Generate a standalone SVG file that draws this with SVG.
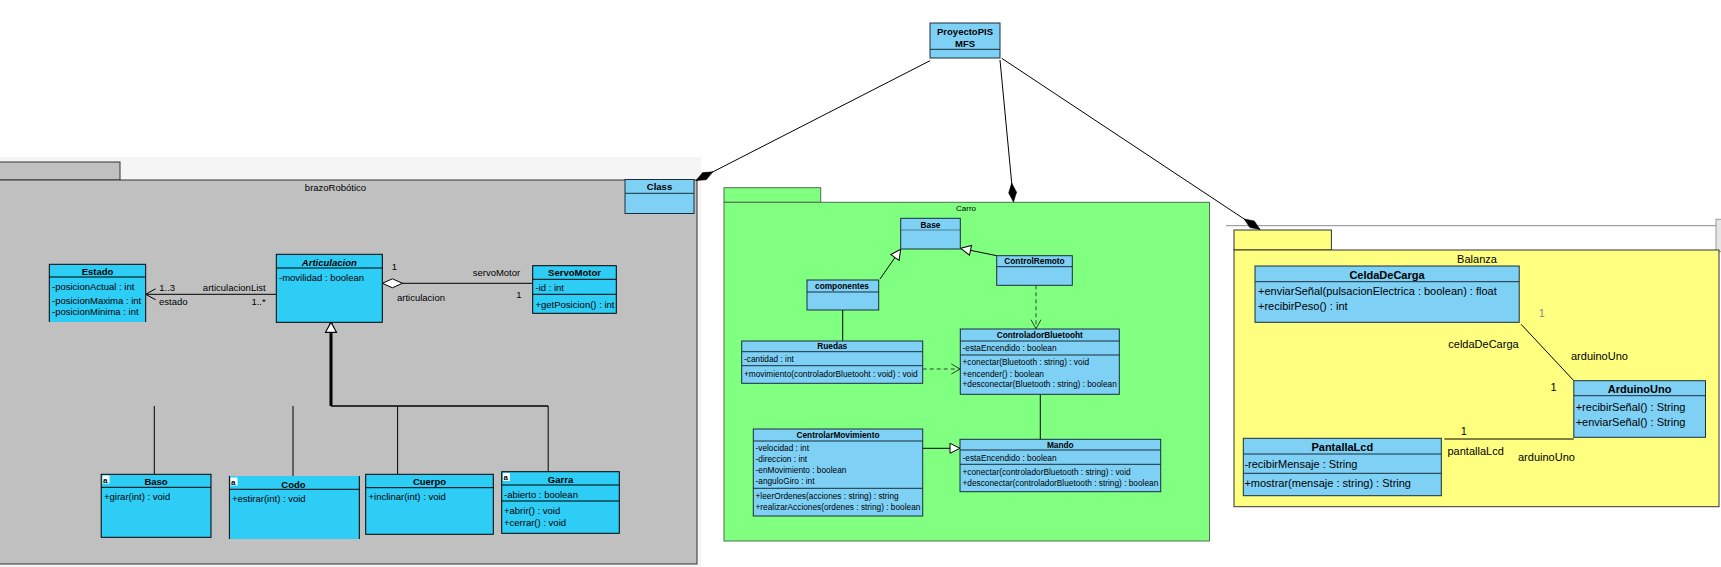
<svg xmlns="http://www.w3.org/2000/svg" width="1721" height="567" viewBox="0 0 1721 567">
<style>
text { font-family: 'Liberation Sans', Arial, sans-serif; fill: #000; }
.t95 { font-size: 9.5px; }
.t83 { font-size: 8.3px; }
.t11 { font-size: 11px; }
.t8 { font-size: 8px; }
.b { font-weight: bold; }
.i { font-style: italic; }
.mid { text-anchor: middle; }
.end { text-anchor: end; }
.cyan { fill: #2ecdf5; stroke: #000; stroke-width: 1; }
.cyanf { fill: #2ecdf5; stroke: none; }
.lb { fill: #7fd0f5; stroke: #1a2e3a; stroke-width: 1; }
.dv { stroke: #000; stroke-width: 1; fill: none; }
.dvl { stroke: #1a2e3a; stroke-width: 1; fill: none; }
.bd { stroke: #000; stroke-width: 1; fill: none; }
.ln { stroke: #000; stroke-width: 1; fill: none; }
.dash { stroke: #2a4a2a; stroke-width: 1; fill: none; stroke-dasharray: 4 3; }
.icon { fill: #fff; stroke: none; }
</style>
<defs>
<marker id="dFill" markerUnits="userSpaceOnUse" orient="auto" refX="0" refY="0" markerWidth="20" markerHeight="10" overflow="visible"><path d="M0,0 L-9.5,-4 L-19,0 L-9.5,4 Z" fill="#000" stroke="#000" stroke-width="0.5"/></marker>
<marker id="dHollow" markerUnits="userSpaceOnUse" orient="auto" refX="0" refY="0" markerWidth="20" markerHeight="10" overflow="visible"><path d="M0,0 L-10,-4.5 L-20,0 L-10,4.5 Z" fill="#fff" stroke="#000" stroke-width="1"/></marker>
<marker id="tri" markerUnits="userSpaceOnUse" orient="auto" refX="0" refY="0" markerWidth="12" markerHeight="12" overflow="visible"><path d="M0,0 L-10,-5 L-10,5 Z" fill="#fff" stroke="#000" stroke-width="1"/></marker>
<marker id="triBig" markerUnits="userSpaceOnUse" orient="auto" refX="0" refY="0" markerWidth="12" markerHeight="12" overflow="visible"><path d="M0,0 L-10,-5.5 L-10,5.5 Z" fill="#fff" stroke="#000" stroke-width="1.2"/></marker>
<marker id="open" markerUnits="userSpaceOnUse" orient="auto" refX="0" refY="0" markerWidth="12" markerHeight="12" overflow="visible"><path d="M-10,-5.5 L0,0 L-10,5.5" fill="none" stroke="#000" stroke-width="1" stroke-dasharray="none"/></marker>
<marker id="openG" markerUnits="userSpaceOnUse" orient="auto" refX="0" refY="0" markerWidth="12" markerHeight="12" overflow="visible"><path d="M-9,-5 L0,0 L-9,5" fill="none" stroke="#2a4a2a" stroke-width="1" stroke-dasharray="none"/></marker>
</defs>

<rect x="0" y="0" width="1721" height="567" fill="#fff"/>
<g id="background">
<rect x="0" y="157" width="701" height="410" fill="#f5f5f5"/>
<line x1="1226" y1="225.7" x2="1716" y2="225.7" stroke="#8a8a8a" stroke-width="1"/>
<rect x="1716" y="219.3" width="6" height="32.4" fill="#e6e6e6" stroke="#9a9a9a" stroke-width="1"/>
</g>

<g id="pkg-brazoRobotico">
<rect x="-1" y="162" width="121" height="18" fill="#c0c0c0" stroke="#333" stroke-width="1"/>
<rect x="-1" y="180" width="698" height="384" fill="#c0c0c0" stroke="#333" stroke-width="1"/>
<text class="t95 mid" x="335.5" y="190.8">brazoRobótico</text>
</g>

<g id="pkg-Carro">
<rect x="724" y="187.7" width="96.7" height="14.6" fill="#80ff80" stroke="#4d704d" stroke-width="1"/>
<rect x="724" y="202.3" width="485.5" height="338.7" fill="#80ff80" stroke="#4d704d" stroke-width="1"/>
<text class="t8 mid" x="966" y="210.5">Carro</text>
</g>

<g id="pkg-Balanza">
<rect x="1234" y="230" width="97.4" height="20" fill="#ffff80" stroke="#333" stroke-width="1"/>
<rect x="1234" y="250" width="485" height="256.7" fill="#ffff80" stroke="#333" stroke-width="1"/>
<text class="t11 mid" x="1477" y="263.3">Balanza</text>
</g>

<g id="connectors">
<line class="ln" x1="930" y1="60.7" x2="696" y2="180.5" marker-end="url(#dFill)"/>
<line class="ln" x1="1000" y1="60" x2="1013.5" y2="202" marker-end="url(#dFill)"/>
<line class="ln" x1="1001.7" y1="58.3" x2="1260" y2="229.5" marker-end="url(#dFill)"/>

<line class="ln" x1="276.3" y1="294.3" x2="145.7" y2="294.3" marker-end="url(#open)"/>
<text class="t95" x="159.3" y="291">1..3</text>
<text class="t95" x="159" y="305">estado</text>
<text class="t95 end" x="265.7" y="291">articulacionList</text>
<text class="t95 end" x="265.7" y="305">1..*</text>

<line class="ln" x1="532.7" y1="283.3" x2="382.4" y2="283.3" marker-end="url(#dHollow)"/>
<text class="t95" x="391.8" y="270">1</text>
<text class="t95" x="472.7" y="275.8">servoMotor</text>
<text class="t95" x="397" y="301">articulacion</text>
<text class="t95" x="516.3" y="297.8">1</text>

<line x1="331" y1="406" x2="331" y2="322.3" stroke="#000" stroke-width="3" marker-end="url(#triBig)"/>
<line x1="331" y1="406" x2="548.2" y2="406" stroke="#000" stroke-width="1.5"/>
<line class="ln" x1="397.6" y1="406" x2="397.6" y2="474.3"/>
<line class="ln" x1="548.2" y1="406" x2="548.2" y2="471.7"/>
<line class="ln" x1="154.3" y1="406" x2="154.3" y2="474.3"/>
<line class="ln" x1="293" y1="406" x2="293" y2="476"/>

<line class="ln" x1="880" y1="279" x2="900.7" y2="249.3" marker-end="url(#tri)"/>
<line class="ln" x1="996.7" y1="255.7" x2="960.7" y2="248.3" marker-end="url(#tri)"/>
<line class="dash" x1="1036" y1="285.3" x2="1036" y2="328.7" marker-end="url(#openG)"/>
<line class="ln" x1="842.7" y1="310" x2="842.7" y2="341"/>
<line class="dash" x1="922.7" y1="369" x2="960.3" y2="369" marker-end="url(#openG)"/>
<line class="ln" x1="1040.3" y1="394.3" x2="1040.3" y2="439.3"/>
<line class="ln" x1="922.7" y1="448.3" x2="960" y2="448.3" marker-end="url(#tri)"/>

<line class="ln" x1="1521.1" y1="324.3" x2="1573.8" y2="380.7"/>
<text class="t11" x="1538.7" y="316.7" fill="#888" style="fill:#888">1</text>
<text class="t11" x="1448.3" y="348">celdaDeCarga</text>
<text class="t11" x="1571" y="360">arduinoUno</text>
<text class="t11" x="1550.4" y="391.3">1</text>
<line class="ln" x1="1444.4" y1="439" x2="1573.8" y2="439"/>
<text class="t11" x="1460.7" y="434.7">1</text>
<text class="t11" x="1447.5" y="455">pantallaLcd</text>
<text class="t11" x="1518" y="461.3">arduinoUno</text>
</g>

<g id="node-ProyectoPIS">
<rect class="lb" x="930" y="23" width="70" height="35"/>
<line class="dvl" x1="930" y1="49.3" x2="1000" y2="49.3"/>
<text class="t95 b mid" x="965" y="35">ProyectoPIS</text>
<text class="t95 b mid" x="965" y="47">MFS</text>
</g>

<g id="node-Class">
<rect class="lb" x="625" y="179.5" width="69" height="34"/>
<line class="dvl" x1="625" y1="193.3" x2="694" y2="193.3"/>
<text class="t95 b mid" x="659.5" y="190">Class</text>
</g>

<g id="node-Estado">
<rect class="cyanf" x="49.3" y="264.3" width="96.4" height="57.7"/>
<path class="bd" d="M49.3,322 V264.3 H145.7 V322"/>
<line class="dv" x1="49.3" y1="277" x2="145.7" y2="277"/>
<text class="t95 b mid" x="97.5" y="275">Estado</text>
<text class="t95" x="52" y="290">-posicionActual : int</text>
<text class="t95" x="52" y="303.5">-posicionMaxima : int</text>
<text class="t95" x="52" y="315">-posicionMinima : int</text>
</g>

<g id="node-Articulacion">
<rect class="cyan" x="276.3" y="254.3" width="106" height="68"/>
<line class="dv" x1="276.3" y1="268" x2="382.3" y2="268"/>
<text class="t95 b i mid" x="329.3" y="265.5">Articulacion</text>
<text class="t95" x="279" y="280.5">-movilidad : boolean</text>
</g>

<g id="node-ServoMotor">
<rect class="cyan" x="532.7" y="265.7" width="83.6" height="47.6"/>
<line class="dv" x1="532.7" y1="279.3" x2="616.3" y2="279.3"/>
<line class="dv" x1="532.7" y1="294.3" x2="616.3" y2="294.3"/>
<text class="t95 b mid" x="574.5" y="276">ServoMotor</text>
<text class="t95" x="535.5" y="291">-id : int</text>
<text class="t95" x="535.5" y="307.5">+getPosicion() : int</text>
</g>

<g id="node-Baso">
<rect class="cyan" x="101.2" y="474.3" width="109.8" height="63"/>
<line class="dv" x1="101.2" y1="487.3" x2="211" y2="487.3"/>
<rect class="icon" x="102.5" y="475.5" width="7" height="8"/>
<text class="t8 b" x="103" y="482.5">a</text>
<text class="t95 b mid" x="156" y="485">Baso</text>
<text class="t95" x="104" y="500">+girar(int) : void</text>
</g>

<g id="node-Codo">
<rect class="cyanf" x="229.4" y="476" width="129.9" height="63"/>
<path class="bd" d="M229.4,539 V476 M359.3,476 V539"/>
<line class="dv" x1="229.4" y1="489.3" x2="359.3" y2="489.3"/>
<rect class="icon" x="230.5" y="477.5" width="7" height="8"/>
<text class="t8 b" x="231" y="484.5">a</text>
<text class="t95 b mid" x="293.5" y="487.5">Codo</text>
<text class="t95" x="232" y="502">+estirar(int) : void</text>
</g>

<g id="node-Cuerpo">
<rect class="cyan" x="365.7" y="474.3" width="127.6" height="60"/>
<line class="dv" x1="365.7" y1="487.7" x2="493.3" y2="487.7"/>
<text class="t95 b mid" x="429.5" y="485">Cuerpo</text>
<text class="t95" x="368.5" y="500">+inclinar(int) : void</text>
</g>

<g id="node-Garra">
<rect class="cyan" x="501.7" y="471.7" width="117.6" height="61.6"/>
<line class="dv" x1="501.7" y1="485" x2="619.3" y2="485"/>
<line class="dv" x1="501.7" y1="501" x2="619.3" y2="501"/>
<rect class="icon" x="503" y="473" width="7" height="8"/>
<text class="t8 b" x="503.5" y="480">a</text>
<text class="t95 b mid" x="560.5" y="483">Garra</text>
<text class="t95" x="504" y="497.5">-abierto : boolean</text>
<text class="t95" x="504" y="514">+abrir() : void</text>
<text class="t95" x="504" y="526">+cerrar() : void</text>
</g>

<g id="node-Base">
<rect class="lb" x="900.7" y="218.3" width="59.6" height="30.7"/>
<line class="dvl" x1="900.7" y1="230" x2="960.3" y2="230" stroke-opacity="0.5"/>
<text class="t83 b mid" x="930.5" y="228">Base</text>
</g>

<g id="node-componentes">
<rect class="lb" x="807" y="280" width="71.7" height="30"/>
<line class="dvl" x1="807" y1="292" x2="878.7" y2="292"/>
<text class="t83 b mid" x="842" y="289.3">componentes</text>
</g>

<g id="node-ControlRemoto">
<rect class="lb" x="996.7" y="255.7" width="75.6" height="29.6"/>
<line class="dvl" x1="996.7" y1="266.7" x2="1072.3" y2="266.7"/>
<text class="t83 b mid" x="1034.5" y="264">ControlRemoto</text>
</g>

<g id="node-ControladorBluetooht">
<rect class="lb" x="960.3" y="329" width="159" height="65.3"/>
<line class="dvl" x1="960.3" y1="341" x2="1119.3" y2="341"/>
<line class="dvl" x1="960.3" y1="355" x2="1119.3" y2="355"/>
<text class="t83 b mid" x="1039.8" y="338">ControladorBluetooht</text>
<text class="t83" x="962.5" y="350.7">-estaEncendido :  boolean</text>
<text class="t83" x="962.5" y="364.7">+conectar(Bluetooth : string) : void</text>
<text class="t83" x="962.5" y="376.7">+encender() : boolean</text>
<text class="t83" x="962.5" y="387.3">+desconectar(Bluetooth : string) : boolean</text>
</g>

<g id="node-Ruedas">
<rect class="lb" x="741.7" y="341" width="181" height="42.3"/>
<line class="dvl" x1="741.7" y1="351.7" x2="922.7" y2="351.7"/>
<line class="dvl" x1="741.7" y1="365.7" x2="922.7" y2="365.7" stroke-width="1.6"/>
<text class="t83 b mid" x="832.2" y="349">Ruedas</text>
<text class="t83" x="744" y="362">-cantidad : int</text>
<text class="t83" x="744" y="376.7">+movimiento(controladorBluetooht : void) : void</text>
</g>

<g id="node-CentrolarMovimiento">
<rect class="lb" x="753.3" y="429" width="169.4" height="87"/>
<line class="dvl" x1="753.3" y1="441" x2="922.7" y2="441"/>
<line class="dvl" x1="753.3" y1="488.3" x2="922.7" y2="488.3"/>
<text class="t83 b mid" x="838" y="438">CentrolarMovimiento</text>
<text class="t83" x="755.5" y="450.7">-velocidad : int</text>
<text class="t83" x="755.5" y="461.7">-direccion : int</text>
<text class="t83" x="755.5" y="473">-enMovimiento : boolean</text>
<text class="t83" x="755.5" y="484">-anguloGiro : int</text>
<text class="t83" x="755.5" y="499">+leerOrdenes(acciones : string) : string</text>
<text class="t83" x="755.5" y="509.7">+realizarAcciones(ordenes : string) : boolean</text>
</g>

<g id="node-Mando">
<rect class="lb" x="960" y="439.3" width="200.7" height="52.4"/>
<line class="dvl" x1="960" y1="450" x2="1160.7" y2="450"/>
<line class="dvl" x1="960" y1="464.3" x2="1160.7" y2="464.3"/>
<text class="t83 b mid" x="1060.3" y="448">Mando</text>
<text class="t83" x="962.5" y="460.7">-estaEncendido : boolean</text>
<text class="t83" x="962.5" y="474.7">+conectar(controladorBluetooth : string) : void</text>
<text class="t83" x="962.5" y="485.7">+desconectar(controladorBluetooth : string) : boolean</text>
</g>

<g id="node-CeldaDeCarga">
<rect class="lb" x="1255" y="266" width="264.2" height="56.3"/>
<line class="dvl" x1="1255" y1="281.7" x2="1519.2" y2="281.7" stroke-width="1.5"/>
<text class="t11 b mid" x="1387" y="279">CeldaDeCarga</text>
<text class="t11" x="1258" y="295">+enviarSeñal(pulsacionElectrica : boolean) : float</text>
<text class="t11" x="1258" y="310">+recibirPeso() : int</text>
</g>

<g id="node-ArduinoUno">
<rect class="lb" x="1573.8" y="380.7" width="131.7" height="56.6"/>
<line class="dvl" x1="1573.8" y1="395.7" x2="1705.5" y2="395.7" stroke-width="1.5"/>
<text class="t11 b mid" x="1639.6" y="393.3">ArduinoUno</text>
<text class="t11" x="1575.7" y="410.7">+recibirSeñal() : String</text>
<text class="t11" x="1575.7" y="425.7">+enviarSeñal() : String</text>
</g>

<g id="node-PantallaLcd">
<rect class="lb" x="1243.3" y="438.3" width="198" height="57.4"/>
<line class="dvl" x1="1243.3" y1="454" x2="1441.3" y2="454" stroke-width="1.5"/>
<line class="dvl" x1="1243.3" y1="473.3" x2="1441.3" y2="473.3" stroke-width="1.5"/>
<text class="t11 b mid" x="1342.3" y="450.7">PantallaLcd</text>
<text class="t11" x="1244.4" y="468.3">-recibirMensaje : String</text>
<text class="t11" x="1244.4" y="487.3">+mostrar(mensaje : string) : String</text>
</g>
</svg>
